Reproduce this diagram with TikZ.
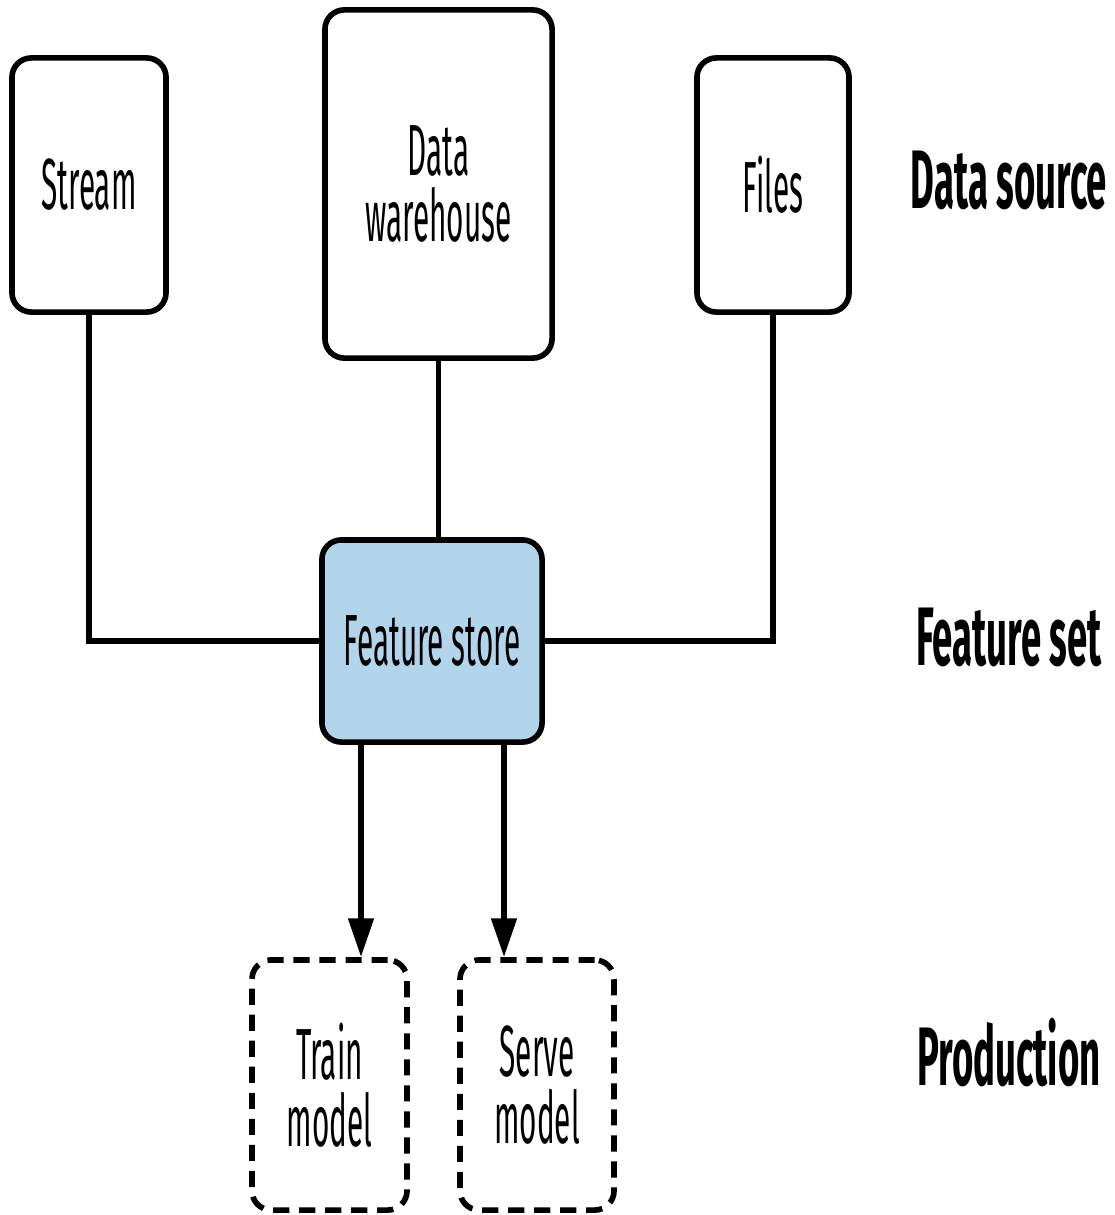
\documentclass[tikz,border=0pt]{standalone}
\usepackage{fontspec}
\usepackage{graphicx}
\setmainfont{Fira Sans}
\usetikzlibrary{arrows.meta}
\newcommand{\sq}[1]{\scalebox{0.41}[1]{#1}}
\newcommand{\sqb}[1]{\scalebox{0.44}[1]{\bfseries #1}}
\tikzset{
  box/.style={draw, line width=1.6pt, rounded corners=5.5pt, align=center, inner sep=0pt,
    font=\fontsize{20.6}{19}\selectfont},
  dbox/.style={box, dash pattern=on 4.6pt off 2.8pt},
  conn/.style={line width=1.6pt},
  arr/.style={conn, -{Triangle[length=11pt,width=7pt]}},
  lab/.style={anchor=base, inner sep=0pt, font=\fontsize{23.6}{26}\selectfont}
}
\definecolor{fsblue}{HTML}{B3D5EB}
\begin{document}
\begin{tikzpicture}[x=0.01cm,y=-0.01cm]
\useasboundingbox (0,0) rectangle (1114,1215);
\node[box, minimum width=1.54cm, minimum height=2.54cm] (st) at (89,185) {\sq{Stream}};
\node[box, minimum width=2.27cm, minimum height=3.48cm] (dw) at (438.5,184) {\sq{Data}\\\sq{warehouse}};
\node[box, minimum width=1.52cm, minimum height=2.54cm] (fi) at (773,185) {\sq{Files}};
\node[box, fill=fsblue, minimum width=2.20cm, minimum height=2.02cm] (fs) at (432,641) {\sq{Feature store}};
\node[dbox, minimum width=1.55cm, minimum height=2.50cm] (tm) at (329.5,1085) {\sq{Train}\\\sq{model}};
\node[dbox, minimum width=1.54cm, minimum height=2.50cm] (sm) at (537,1085) {\sq{Serve}\\\sq{model}};
\node[lab] (l1) at (1009,208) {\sqb{Data source}};
\node[lab] (l2) at (1009,665) {\sqb{Feature set}};
\node[lab] (l3) at (1009,1085) {\sqb{Production}};
\draw[conn] (st.south) |- (fs.west);
\draw[conn] (fi.south) |- (fs.east);
\draw[conn] (dw.south) -- (dw.south |- fs.north);
\draw[arr] (fs.south -| 361,0) -- (tm.north -| 361,0);
\draw[arr] (fs.south -| 504,0) -- (sm.north -| 504,0);
\end{tikzpicture}
\end{document}
